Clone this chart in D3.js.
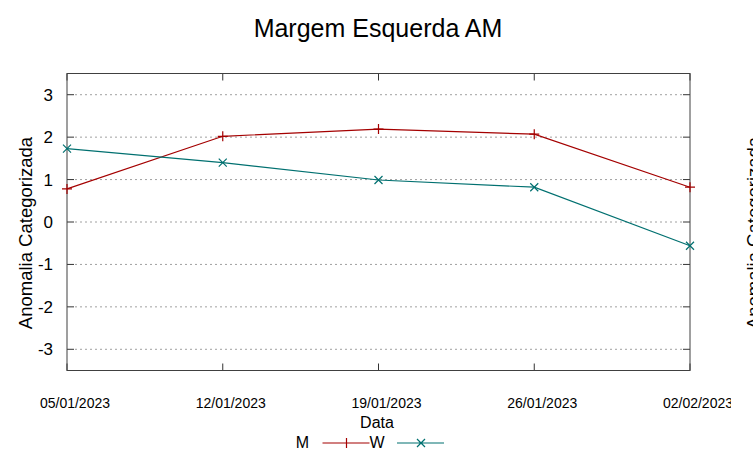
<!DOCTYPE html>
<html>
<head>
<meta charset="utf-8">
<script src="https://cdn.jsdelivr.net/npm/d3@7"></script>
<style>
body { margin: 0; background: #fff; }
text { font-family: "Liberation Sans", Arial, sans-serif; }
</style>
</head>
<body>
<div class="chart"></div>
<script>
var width = 753
var height = 459

var dates = ['05/01/2023', '12/01/2023', '19/01/2023', '26/01/2023', '02/02/2023']
var seriesM = [0.78, 2.02, 2.19, 2.07, 0.82]
var seriesW = [1.73, 1.40, 0.99, 0.82, -0.56]
var yTicks = [-3, -2, -1, 0, 1, 2, 3]

var parse = d3.timeParse('%d/%m/%Y')
var plotLeft = 67, plotRight = 690, plotTop = 73.5, plotBottom = 370.5

var svg = d3.select('.chart').append('svg')
    .attr('width', width)
    .attr('height', height)

svg.append('clipPath').attr('id', 'labelclip')
    .append('rect').attr('x', 0).attr('y', 0).attr('width', 731).attr('height', height)

var x = d3.scaleTime()
    .domain([parse(dates[0]), parse(dates[dates.length - 1])])
    .range([plotLeft, plotRight])
var y = d3.scaleLinear().domain([-3.5, 3.5]).range([plotBottom, plotTop])

// grid
svg.append('g').selectAll('line')
    .data(yTicks)
    .enter().append('line')
    .attr('x1', plotLeft + 8).attr('x2', plotRight - 8)
    .attr('y1', function (d) { return y(d) }).attr('y2', function (d) { return y(d) })
    .attr('stroke', '#a0a0a0')
    .attr('stroke-dasharray', '2,3')

// ticks on both sides
svg.append('g').selectAll('path')
    .data(yTicks)
    .enter().append('path')
    .attr('d', function (d) {
        return 'M' + plotLeft + ',' + y(d) + 'h7M' + plotRight + ',' + y(d) + 'h-7'
    })
    .attr('stroke', '#333')

svg.append('g').selectAll('path')
    .data(dates)
    .enter().append('path')
    .attr('d', function (d) {
        var px = x(parse(d))
        return 'M' + px + ',' + plotBottom + 'v-7M' + px + ',' + plotTop + 'v7'
    })
    .attr('stroke', '#333')

svg.append('rect')
    .attr('x', plotLeft).attr('y', plotTop)
    .attr('width', plotRight - plotLeft).attr('height', plotBottom - plotTop)
    .attr('fill', 'none')
    .attr('stroke', '#404040')

// tick labels
svg.append('g').selectAll('text')
    .data(yTicks)
    .enter().append('text')
    .attr('x', 53)
    .attr('y', function (d) { return y(d) + 6 })
    .attr('text-anchor', 'end')
    .attr('font-size', 17)
    .text(function (d) { return d })

svg.append('g')
    .attr('clip-path', 'url(#labelclip)')
    .selectAll('text')
    .data(dates)
    .enter().append('text')
    .attr('x', function (d) { return x(parse(d)) + 8 })
    .attr('y', 408)
    .attr('text-anchor', 'middle')
    .attr('font-size', 14)
    .attr('textLength', 70)
    .text(function (d) { return d })

svg.append('text')
    .attr('x', 378).attr('y', 37)
    .attr('text-anchor', 'middle')
    .attr('font-size', 25)
    .text('Margem Esquerda AM')

svg.append('text')
    .attr('x', 377).attr('y', 428)
    .attr('text-anchor', 'middle')
    .attr('font-size', 16)
    .text('Data')

svg.append('text')
    .attr('transform', 'translate(32,233) rotate(-90)')
    .attr('text-anchor', 'middle')
    .attr('font-size', 18.5)
    .text('Anomalia Categorizada')

// clipped label of the neighbouring chart
svg.append('text')
    .attr('transform', 'translate(760,233) rotate(-90)')
    .attr('text-anchor', 'middle')
    .attr('font-size', 18.5)
    .text('Anomalia Categorizada')

var line = d3.line()
    .x(function (d, i) { return x(parse(dates[i])) })
    .y(function (d) { return y(d) })

function plus(px, py) { return 'M' + (px - 5) + ',' + py + 'h10M' + px + ',' + (py - 5) + 'v10' }
function cross(px, py) { return 'M' + (px - 4) + ',' + (py - 4) + 'l8,8M' + (px - 4) + ',' + (py + 4) + 'l8,-8' }

var series = [
    { name: 'M', values: seriesM, color: '#a40000', marker: plus },
    { name: 'W', values: seriesW, color: '#007070', marker: cross }
]

series.forEach(function (s) {
    svg.append('path')
        .datum(s.values)
        .attr('d', line)
        .attr('fill', 'none')
        .attr('stroke', s.color)
        .attr('stroke-width', 1.2)
    svg.append('path')
        .attr('d', s.values.map(function (d, i) { return s.marker(x(parse(dates[i])), y(d)) }).join(''))
        .attr('stroke', s.color)
        .attr('stroke-width', 1.2)
})

// legend
var legendX = [302.5, 377]
series.forEach(function (s, i) {
    var lx = legendX[i]
    svg.append('text')
        .attr('x', lx).attr('y', 448)
        .attr('text-anchor', 'middle')
        .attr('font-size', 16)
        .text(s.name)
    svg.append('path')
        .attr('d', 'M' + (lx + 20) + ',443h47' + s.marker(lx + 44, 443))
        .attr('stroke', s.color)
        .attr('stroke-width', 1.2)
})
</script>
</body>
</html>
